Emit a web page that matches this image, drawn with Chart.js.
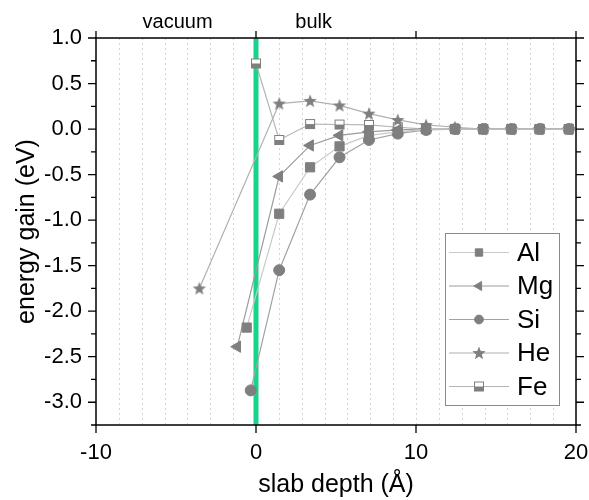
<!DOCTYPE html>
<html>
<head>
<meta charset="utf-8">
<script src="https://cdn.jsdelivr.net/npm/chart.js@4/dist/chart.umd.min.js"></script>
<style>
  html, body { margin: 0; padding: 0; background: #fff; }
  #wrap { width: 589px; height: 500px; }
</style>
</head>
<body>
<div id="wrap"><canvas id="c" width="589" height="500"></canvas></div>
<script>
// ---- data ----
const seriesNames = ['Al', 'Mg', 'Si', 'He', 'Fe'];

const alDepth  = [-0.58, 1.45, 3.38, 5.22, 7.06, 8.86, 10.63, 12.44, 14.2, 15.96, 17.72, 19.55];
const alGain   = [-2.18, -0.93, -0.42, -0.19, -0.07, -0.03, 0.0, 0.0, 0.0, 0.0, 0.0, 0.0];

const mgDepth  = [-1.17, 1.45, 3.38, 5.22, 7.06, 8.86, 10.63, 12.44, 14.2, 15.96, 17.72, 19.55];
const mgGain   = [-2.39, -0.52, -0.18, -0.07, -0.03, -0.01, 0.0, 0.0, 0.0, 0.0, 0.0, 0.0];

const siDepth  = [-0.33, 1.45, 3.38, 5.22, 7.06, 8.86, 10.63, 12.44, 14.2, 15.96, 17.72, 19.55];
const siGain   = [-2.87, -1.55, -0.72, -0.31, -0.12, -0.05, -0.01, 0.0, 0.0, 0.0, 0.0, 0.0];

const heDepth  = [-3.54, 1.45, 3.38, 5.22, 7.06, 8.86, 10.63, 12.44, 14.2, 15.96, 17.72, 19.55];
const heGain   = [-1.75, 0.28, 0.31, 0.26, 0.17, 0.10, 0.045, 0.02, 0.0, 0.0, 0.0, 0.0];

const feDepth  = [0.0, 1.45, 3.38, 5.22, 7.06, 8.86, 10.63, 12.44, 14.2, 15.96, 17.72, 19.55];
const feGain   = [0.72, -0.12, 0.055, 0.05, 0.045, 0.02, 0.0, 0.0, 0.0, 0.0, 0.0, 0.0];

const xTicks = [-10, 0, 10, 20];
const yTicks = [-3.0, -2.5, -2.0, -1.5, -1.0, -0.5, 0.0, 0.5, 1.0];
const yMinorTicks = [-3.25, -2.75, -2.25, -1.75, -1.25, -0.75, -0.25, 0.25, 0.75];
const gridStep = 10 / 7;           // dotted vertical guide spacing (Å)
const surfaceDepth = 0;            // vacuum / bulk boundary
const regionLabels = ['vacuum', 'bulk'];
const regionLabelDepth = [-4.9, 3.6];

// ---- styling ----
const FONT = "'Liberation Sans', Arial, sans-serif";
const MARK = '#7f7f7f';

function makeStar() {
  const c = document.createElement('canvas');
  c.width = 16; c.height = 16;
  const g = c.getContext('2d');
  g.beginPath();
  for (let i = 0; i < 10; i++) {
    const r = i % 2 === 0 ? 7 : 3;
    const a = -Math.PI / 2 + i * Math.PI / 5;
    const x = 8 + r * Math.cos(a), y = 8.5 + r * Math.sin(a);
    if (i === 0) g.moveTo(x, y); else g.lineTo(x, y);
  }
  g.closePath();
  g.fillStyle = MARK; g.fill();
  return c;
}
function makeHalfSquare() {
  const c = document.createElement('canvas');
  c.width = 12; c.height = 12;
  const g = c.getContext('2d');
  g.fillStyle = '#ffffff'; g.fillRect(1, 1, 10, 10);
  g.fillStyle = MARK; g.fillRect(1, 6, 10, 5);
  g.strokeStyle = MARK; g.lineWidth = 1; g.strokeRect(1.5, 1.5, 9, 9);
  return c;
}
const starImg = makeStar();
const feImg = makeHalfSquare();

function pts(xs, ys) { return xs.map((x, i) => ({ x: x, y: ys[i] })); }

const datasets = [
  { label: seriesNames[0], data: pts(alDepth, alGain), borderColor: '#c9c9c9', pointStyle: 'rect', pointRadius: 6.5, pointRotation: 0 },
  { label: seriesNames[1], data: pts(mgDepth, mgGain), borderColor: '#9c9c9c', pointStyle: 'triangle', pointRadius: 6.5, pointRotation: -90 },
  { label: seriesNames[2], data: pts(siDepth, siGain), borderColor: '#a2a2a2', pointStyle: 'circle', pointRadius: 5.5, pointRotation: 0 },
  { label: seriesNames[3], data: pts(heDepth, heGain), borderColor: '#b0b0b0', pointStyle: starImg, pointRadius: 7, pointRotation: 0 },
  { label: seriesNames[4], data: pts(feDepth, feGain), borderColor: '#b5b5b5', pointStyle: feImg, pointRadius: 6, pointRotation: 0 }
].map(d => Object.assign(d, {
  borderWidth: 1.2,
  pointBackgroundColor: MARK,
  pointBorderColor: MARK,
  pointBorderWidth: 1,
  pointHoverRadius: d.pointRadius,
  tension: 0,
  fill: false
}));

const framePlugin = {
  id: 'frame',
  beforeDatasetsDraw(chart) {
    const { ctx, chartArea: a, scales: { x } } = chart;
    ctx.save();
    // dotted vertical guides
    ctx.strokeStyle = '#d4d4d4';
    ctx.lineWidth = 1;
    ctx.setLineDash([2, 3]);
    for (let k = -7; k <= 14; k++) {
      const v = k * gridStep;
      if (v <= x.min + 1e-6 || v >= x.max - 1e-6) continue;
      const px = Math.round(x.getPixelForValue(v)) + 0.5;
      ctx.beginPath(); ctx.moveTo(px, a.top); ctx.lineTo(px, a.bottom); ctx.stroke();
    }
    ctx.setLineDash([]);
    // surface line
    const sx = x.getPixelForValue(surfaceDepth);
    ctx.strokeStyle = '#16d48a';
    ctx.lineWidth = 5;
    ctx.beginPath(); ctx.moveTo(sx, a.top); ctx.lineTo(sx, a.bottom); ctx.stroke();
    ctx.restore();
  },
  afterDraw(chart) {
    const { ctx, chartArea: a, scales: { x, y } } = chart;
    ctx.save();
    ctx.strokeStyle = '#000';
    ctx.lineWidth = 1.5;
    ctx.strokeRect(a.left, a.top, a.right - a.left, a.bottom - a.top);
    ctx.lineWidth = 1.3;
    ctx.beginPath();
    xTicks.forEach(v => {
      const px = x.getPixelForValue(v);
      ctx.moveTo(px, a.bottom); ctx.lineTo(px, a.bottom + 8);
      ctx.moveTo(px, a.top); ctx.lineTo(px, a.top - 7);
    });
    yTicks.forEach(v => {
      const py = y.getPixelForValue(v);
      ctx.moveTo(a.left, py); ctx.lineTo(a.left - 8, py);
      ctx.moveTo(a.right, py); ctx.lineTo(a.right + 8, py);
    });
    yMinorTicks.forEach(v => {
      const py = y.getPixelForValue(v);
      ctx.moveTo(a.left, py); ctx.lineTo(a.left - 5, py);
      ctx.moveTo(a.right, py); ctx.lineTo(a.right + 5, py);
    });
    ctx.stroke();

    // region labels
    ctx.fillStyle = '#000';
    ctx.font = '20px ' + FONT;
    ctx.textAlign = 'center';
    ctx.textBaseline = 'alphabetic';
    regionLabels.forEach((t, i) => {
      ctx.fillText(t, x.getPixelForValue(regionLabelDepth[i]), a.top - 10);
    });

    // legend (inside plot, lower right)
    const L = { x: 445, y: 233, w: 114, h: 172, row: 33.5 };
    ctx.fillStyle = '#fff';
    ctx.fillRect(L.x, L.y, L.w, L.h);
    ctx.strokeStyle = '#8a8a8a';
    ctx.lineWidth = 1;
    ctx.strokeRect(L.x + 0.5, L.y + 0.5, L.w, L.h);
    chart.data.datasets.forEach((d, i) => {
      const cy = L.y + 19.5 + i * L.row;
      ctx.strokeStyle = d.borderColor;
      ctx.lineWidth = 1.2;
      ctx.beginPath(); ctx.moveTo(L.x + 4, cy); ctx.lineTo(L.x + 64, cy); ctx.stroke();
      const mx = L.x + 34;
      if (d.pointStyle instanceof HTMLCanvasElement) {
        ctx.drawImage(d.pointStyle, mx - d.pointStyle.width / 2, cy - d.pointStyle.height / 2);
      } else {
        ctx.fillStyle = MARK; ctx.strokeStyle = MARK; ctx.lineWidth = 1;
        Chart.helpers.drawPoint(ctx, { pointStyle: d.pointStyle, rotation: d.pointRotation, radius: d.pointRadius * 0.8, borderWidth: 1 }, mx, cy);
      }
      ctx.fillStyle = '#000';
      ctx.font = '26px ' + FONT;
      ctx.textAlign = 'left';
      ctx.textBaseline = 'middle';
      ctx.fillText(d.label, L.x + 72, cy + 1);
    });
    ctx.restore();
  }
};

new Chart(document.getElementById('c'), {
  type: 'line',
  data: { datasets: datasets },
  options: {
    responsive: false,
    devicePixelRatio: 1,
    animation: false,
    layout: { padding: { top: 38, right: 13, left: 0, bottom: 0 } },
    plugins: { legend: { display: false }, tooltip: { enabled: false } },
    scales: {
      x: {
        type: 'linear', position: 'bottom', min: -10, max: 20,
        afterBuildTicks: s => { s.ticks = xTicks.map(v => ({ value: v })); },
        afterFit: s => { s.height = 75; s.paddingLeft = 0; s.paddingRight = 0; },
        grid: { display: false, drawTicks: false },
        border: { display: false },
        ticks: { color: '#000', font: { family: FONT, size: 22 }, padding: 15, maxRotation: 0, autoSkip: false },
        title: { display: true, text: 'slab depth (Å)', color: '#000', font: { family: FONT, size: 25 }, padding: { top: 0, bottom: 0 } }
      },
      y: {
        type: 'linear', position: 'left', min: -3.25, max: 1.0,
        afterBuildTicks: s => { s.ticks = yTicks.map(v => ({ value: v })); },
        afterFit: s => { s.width = 96; s.paddingTop = 0; s.paddingBottom = 0; },
        grid: { display: false, drawTicks: false },
        border: { display: false },
        ticks: { color: '#000', font: { family: FONT, size: 22 }, padding: 14, autoSkip: false, callback: v => Number(v).toFixed(1) },
        title: { display: true, text: 'energy gain (eV)', color: '#000', font: { family: FONT, size: 25 }, padding: { top: 12, bottom: 0 } }
      }
    }
  },
  plugins: [framePlugin]
});
</script>
</body>
</html>
